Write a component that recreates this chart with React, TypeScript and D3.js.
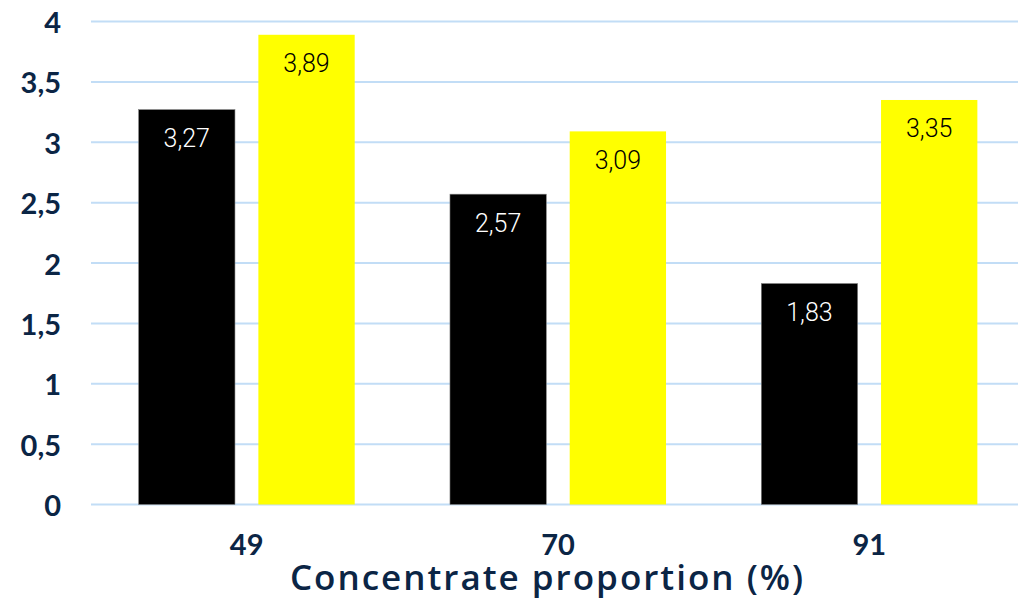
import React from "react";
import * as d3 from "d3";

const categories = ["49", "70", "91"];
const seriesKeys = ["a", "b"];
const seriesA = [3.27, 2.57, 1.83];
const seriesB = [3.89, 3.09, 3.35];
const yTicks = [0, 0.5, 1, 1.5, 2, 2.5, 3, 3.5, 4];
const axisTitle = "Concentrate proportion (%)";

const W = 1018;
const H = 603;
const NAVY = "#0b2545";
const GRID = "#c2ddf6";
const barColors: Record<string, string> = { a: "#000000", b: "#ffff00" };
const labelColors: Record<string, string> = { a: "#ffffff", b: "#000000" };

const fmt = (v: number) => String(v).replace(".", ",");

export default function App() {
  const y = d3.scaleLinear().domain([0, 4]).range([504.5, 21.5]);
  const x0 = d3
    .scaleBand<string>()
    .domain(categories)
    .range([91, 1025])
    .paddingInner(0.306)
    .paddingOuter(0.153);
  const x1 = d3
    .scaleBand<string>()
    .domain(seriesKeys)
    .range([0, x0.bandwidth()])
    .paddingInner(0.1955)
    .paddingOuter(0);

  const rows = categories.map((c, i) => ({ c, a: seriesA[i], b: seriesB[i] }));

  return (
    <svg
      width={W}
      height={H}
      style={{ position: "absolute", left: 0, top: 0, display: "block", background: "#fff" }}
    >
      {yTicks.map((t) => (
        <g key={t}>
          <line x1={91} x2={W} y1={y(t)} y2={y(t)} stroke={GRID} strokeWidth={2} />
          <text
            x={61}
            y={y(t)}
            textAnchor="end"
            dominantBaseline="central"
            fontFamily="Lato, sans-serif"
            fontWeight={700}
            fontSize={29}
            fill={NAVY}
          >
            {fmt(t)}
          </text>
        </g>
      ))}
      {rows.map((r) => (
        <g key={r.c} transform={`translate(${x0(r.c)},0)`}>
          {seriesKeys.map((k) => {
            const v = (r as any)[k] as number;
            const bx = x1(k)!;
            const bw = x1.bandwidth();
            return (
              <g key={k}>
                <rect
                  x={bx}
                  y={y(v)}
                  width={bw}
                  height={y(0) - y(v)}
                  fill={barColors[k]}
                  stroke={k === "a" ? "#808080" : "none"}
                  strokeWidth={0.6}
                />
                <text
                  x={bx + bw / 2}
                  y={y(v) + 29}
                  textAnchor="middle"
                  dominantBaseline="central"
                  fontFamily="Roboto, sans-serif"
                  fontWeight={300}
                  fontSize={25}
                  fill={labelColors[k]}
                >
                  {fmt(v)}
                </text>
              </g>
            );
          })}
          <text
            x={x0.bandwidth() / 2}
            y={543}
            textAnchor="middle"
            dominantBaseline="central"
            fontFamily="Lato, sans-serif"
            fontWeight={700}
            fontSize={29}
            fill={NAVY}
          >
            {r.c}
          </text>
        </g>
      ))}
      <text
        x={547.5}
        y={590}
        textAnchor="middle"
        fontFamily="'Open Sans', sans-serif"
        fontWeight={600}
        fontSize={35}
        letterSpacing={2}
        fill={NAVY}
      >
        {axisTitle}
      </text>
    </svg>
  );
}
